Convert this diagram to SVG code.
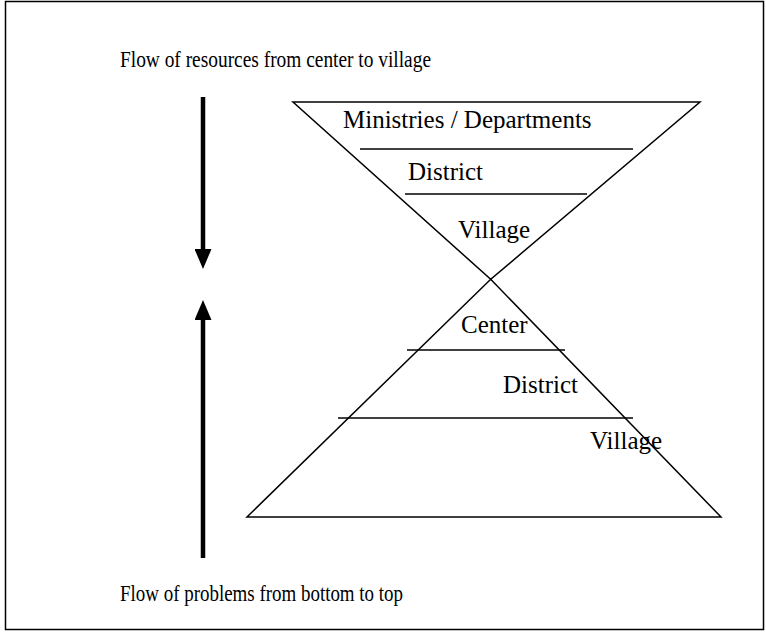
<svg xmlns="http://www.w3.org/2000/svg" width="766" height="632" viewBox="0 0 766 632">
  <style>
    .lbl { font-family: "Liberation Serif", "Times New Roman", serif; font-size: 25px; fill: #000; }
    .cap { font-family: "Liberation Serif", "Times New Roman", serif; font-size: 24px; fill: #000; }
    .edge { stroke: #000; stroke-width: 1.5; fill: none; }
    .flow { stroke: #000; stroke-width: 4.5; fill: none; }
  </style>
  <defs>
    <marker id="head" viewBox="0 0 20 17" refX="0" refY="8.5" markerWidth="20" markerHeight="17" markerUnits="userSpaceOnUse" orient="auto">
      <path d="M0,0 L20,8.5 L0,17 Z" fill="#000"/>
    </marker>
  </defs>
  <rect width="766" height="632" fill="#fff"/>
  <!-- outer frame -->
  <rect x="5.5" y="1.5" width="758" height="628" class="edge"/>

  <!-- resources flow downward (condensed caption) -->
  <g id="resources">
    <text class="cap" x="120" y="67" textLength="311" lengthAdjust="spacingAndGlyphs">Flow of resources from center to village</text>
  </g>
  <!-- problems flow upward (condensed caption) -->
  <g id="problems">
    <text class="cap" x="120" y="601" textLength="283" lengthAdjust="spacingAndGlyphs">Flow of problems from bottom to top</text>
  </g>

  <g id="connectors">
    <line class="flow" x1="203" y1="97" x2="203" y2="249" marker-end="url(#head)"/>
    <line class="flow" x1="203" y1="558" x2="203" y2="320" marker-end="url(#head)"/>
  </g>

  <!-- inverted pyramid: top-down allocation -->
  <g id="top-pyramid">
    <path class="edge" d="M293,102 L700,102 L490.7,279.3 Z"/>
    <line class="edge" x1="360" y1="149" x2="633" y2="149"/>
    <line class="edge" x1="405" y1="194" x2="587" y2="194"/>
    <text class="lbl" x="343" y="128">Ministries / Departments</text>
    <text class="lbl" x="408" y="180">District</text>
    <text class="lbl" x="458" y="238">Village</text>
  </g>

  <!-- upright pyramid: bottom-up reporting -->
  <g id="bottom-pyramid">
    <path class="edge" d="M490.7,279.3 L721,517 L247,517 Z"/>
    <line class="edge" x1="407" y1="350" x2="565" y2="350"/>
    <line class="edge" x1="338" y1="418" x2="633" y2="418"/>
    <text class="lbl" x="461" y="333">Center</text>
    <text class="lbl" x="503" y="393">District</text>
    <text class="lbl" x="590" y="449">Village</text>
  </g>
</svg>
